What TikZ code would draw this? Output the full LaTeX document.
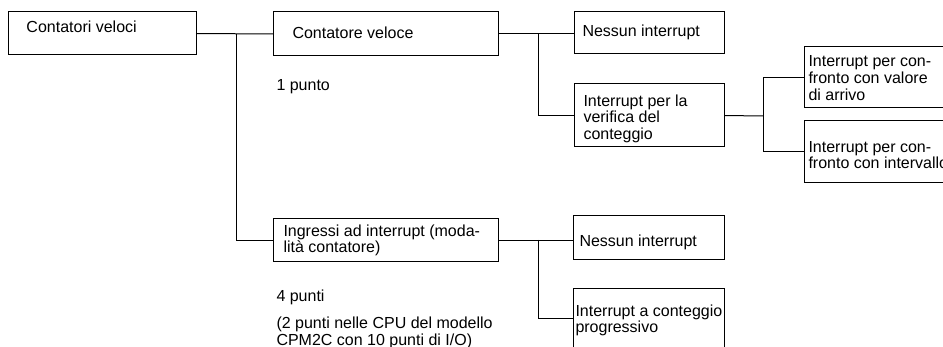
\documentclass[tikz,border=0pt]{standalone}
\usepackage{fontspec}
\setmainfont{Liberation Sans}
\begin{document}
\begin{tikzpicture}[x=1pt,y=-1pt,line width=1pt,
  box/.style={draw, anchor=north west, inner sep=0pt, outer sep=0pt},
  txt/.style={anchor=base west, inner sep=0pt, font=\fontsize{16}{17}\selectfont}]
\useasboundingbox (0,0) rectangle (943,347);
\clip (0,0) rectangle (943,347);
% boxes
\node[box, minimum width=188pt, minimum height=43pt] (b1) at (8,12) {};
\node[box, minimum width=225pt, minimum height=44pt] (b2) at (273,12) {};
\node[box, minimum width=225pt, minimum height=43pt] (b3) at (273,219) {};
\node[box, minimum width=150pt, minimum height=42pt] (b4) at (574,12) {};
\node[box, minimum width=150pt, minimum height=63pt] (b5) at (574,84) {};
\node[box, minimum width=160pt, minimum height=61pt] (b6) at (804,47) {};
\node[box, minimum width=160pt, minimum height=62pt] (b7) at (804,121) {};
\node[box, minimum width=151pt, minimum height=44pt] (b8) at (573,216) {};
\node[box, minimum width=151pt, minimum height=60pt] (b9) at (573,289) {};
% texts
\node[txt] (t1) at (26,33) {Contatori veloci};
\node[txt] (t2) at (292,39) {Contatore veloce};
\node[txt] (t3) at (276,91) {1 punto};
\node[txt] (t4a) at (283,237) {Ingressi ad interrupt (moda-};
\node[txt] (t4b) at (283,253) {lità contatore)};
\node[txt] (t5) at (276,302) {4 punti};
\node[txt] (t6a) at (276,329) {(2 punti nelle CPU del modello};
\node[txt] (t6b) at (276,346) {CPM2C con 10 punti di I/O)};
\node[txt] (t7) at (582,37) {Nessun interrupt};
\node[txt] (t8a) at (583,107) {Interrupt per la};
\node[txt] (t8b) at (583,123) {verifica del};
\node[txt] (t8c) at (583,140) {conteggio};
\node[txt] (t9a) at (808,67) {Interrupt per con-};
\node[txt] (t9b) at (808,84) {fronto con valore};
\node[txt] (t9c) at (808,101) {di arrivo};
\node[txt] (t10a) at (808,153) {Interrupt per con-};
\node[txt] (t10b) at (808,169) {fronto con intervallo};
\node[txt] (t11) at (579,247) {Nessun interrupt};
\node[txt] (t12a) at (575,317) {Interrupt a conteggio};
\node[txt] (t12b) at (575,333) {progressivo};
% junctions
\coordinate (j1) at (236,34);
\coordinate (j2) at (538,34);
\coordinate (j3) at (763,116);
\coordinate (j4) at (538,240);
% connectors
\draw (b1.east) -- (b2.west);
\draw (j1) |- (b3.west);
\draw (b2.east) -- (b4.west |- b2.east);
\draw (j2) |- (b5.west);
\draw (b5.east) -- (j3);
\draw (j3) |- (b6.west);
\draw (j3) |- (b7.west);
\draw (b3.east) -- (b8.west |- b3.east);
\draw (j4) |- (b9.west);
\end{tikzpicture}
\end{document}
